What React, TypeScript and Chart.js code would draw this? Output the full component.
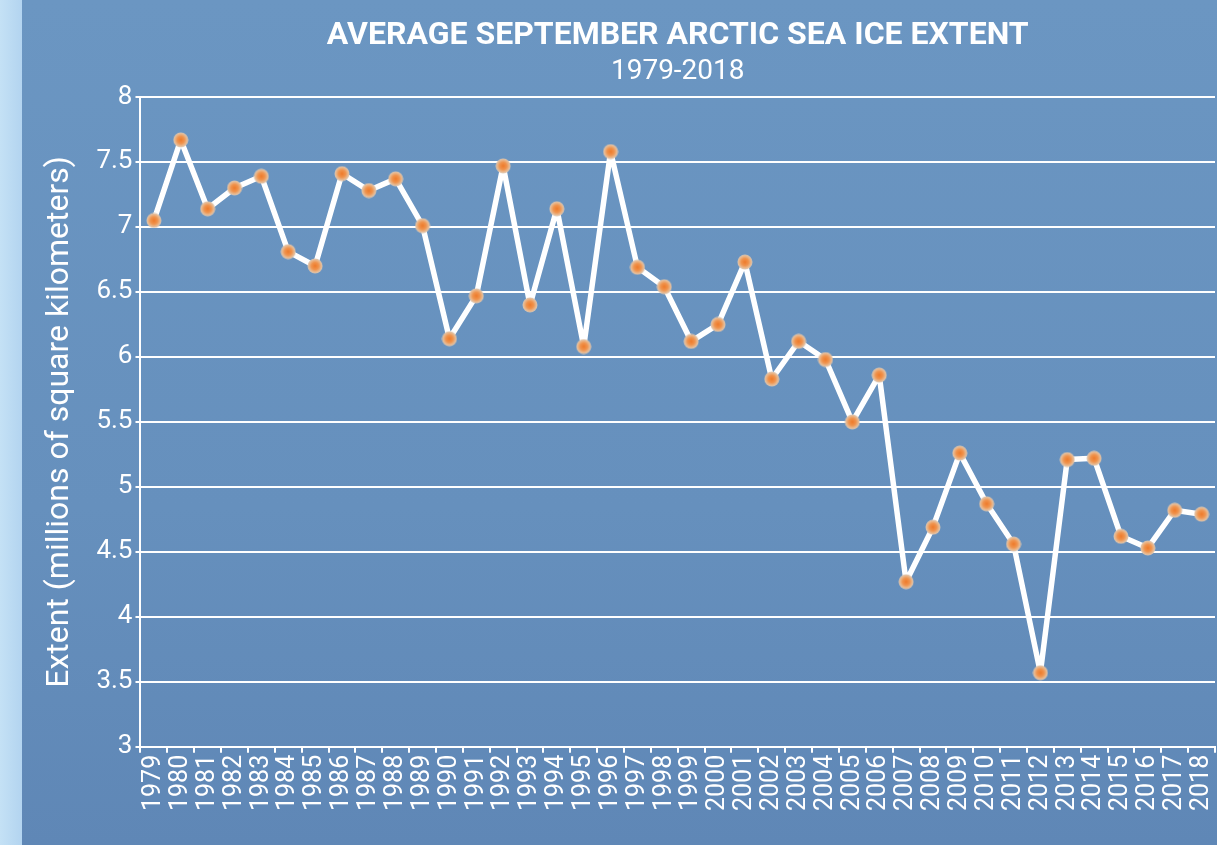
import React, { useEffect, useRef } from "react";
import { Chart, registerables } from "chart.js";

Chart.register(...registerables);

const years: string[] = [
  "1979", "1980", "1981", "1982", "1983", "1984", "1985", "1986", "1987", "1988",
  "1989", "1990", "1991", "1992", "1993", "1994", "1995", "1996", "1997", "1998",
  "1999", "2000", "2001", "2002", "2003", "2004", "2005", "2006", "2007", "2008",
  "2009", "2010", "2011", "2012", "2013", "2014", "2015", "2016", "2017", "2018",
];

const extent: number[] = [
  7.05, 7.67, 7.14, 7.30, 7.39, 6.81, 6.70, 7.41, 7.28, 7.37,
  7.01, 6.14, 6.47, 7.47, 6.40, 7.14, 6.08, 7.58, 6.69, 6.54,
  6.12, 6.25, 6.73, 5.83, 6.12, 5.98, 5.50, 5.86, 4.27, 4.69,
  5.26, 4.87, 4.56, 3.57, 5.21, 5.22, 4.62, 4.53, 4.82, 4.79,
];

const titleText = "AVERAGE SEPTEMBER ARCTIC SEA ICE EXTENT";
const subtitleText = "1979-2018";
const yAxisTitle = "Extent (millions of square kilometers)";

function makePointImage(): HTMLCanvasElement {
  const c = document.createElement("canvas");
  const s = 16;
  c.width = s;
  c.height = s;
  const ctx = c.getContext("2d")!;
  const r = s / 2;
  const g = ctx.createRadialGradient(r, r, 0, r, r, r);
  g.addColorStop(0, "#ee7a2a");
  g.addColorStop(0.45, "#f0944e");
  g.addColorStop(0.75, "#e8b88e");
  g.addColorStop(1, "rgba(215,205,195,0.9)");
  ctx.fillStyle = g;
  ctx.beginPath();
  ctx.arc(r, r, r - 0.5, 0, Math.PI * 2);
  ctx.fill();
  return c;
}

export default function App() {
  const ref = useRef<HTMLCanvasElement | null>(null);

  useEffect(() => {
    document.body.style.margin = "0";
    const canvas = ref.current;
    if (!canvas) return;
    const pointImg = makePointImage();
    const chart = new Chart(canvas, {
      type: "line",
      data: {
        labels: years,
        datasets: [
          {
            label: "Extent",
            data: extent,
            borderColor: "#ffffff",
            borderWidth: 5.5,
            borderJoinStyle: "round",
            pointStyle: pointImg as any,
            pointRadius: 8,
            tension: 0,
          },
        ],
      },
      options: {
        animation: false,
        responsive: false,
        maintainAspectRatio: false,
        layout: { autoPadding: false, padding: { left: 41, right: 2, top: 17, bottom: 32 } },
        plugins: {
          legend: { display: false },
          tooltip: { enabled: false },
          title: {
            display: true,
            fullSize: false,
            text: titleText,
            color: "#ffffff",
            font: { family: "Roboto", size: 32, weight: "bold" },
            padding: { top: 0, bottom: 0 },
          },
          subtitle: {
            display: true,
            fullSize: false,
            text: subtitleText,
            color: "#ffffff",
            font: { family: "Roboto", size: 28, weight: "normal" },
            padding: { top: 0, bottom: 8 },
          },
        },
        scales: {
          x: {
            type: "category",
            offset: true,
            afterFit: (scale: any) => {
              scale.paddingRight = 0;
            },
            border: { display: true, color: "#ffffff", width: 2 },
            grid: {
              offset: true,
              drawOnChartArea: false,
              drawTicks: true,
              tickLength: 6,
              color: "#ffffff",
              lineWidth: 2,
            },
            ticks: {
              color: "#ffffff",
              font: { family: "Roboto", size: 25 },
              maxRotation: 90,
              minRotation: 90,
              autoSkip: false,
              padding: 2,
            },
          },
          y: {
            min: 3,
            max: 8,
            border: { display: true, color: "#ffffff", width: 2 },
            grid: {
              color: "#ffffff",
              lineWidth: 2,
              drawTicks: true,
              tickLength: 5,
            },
            ticks: {
              stepSize: 0.5,
              color: "#ffffff",
              font: { family: "Roboto", size: 26 },
              padding: 3,
              callback: (v: any) => String(Number(v)),
            },
            title: {
              display: true,
              text: yAxisTitle,
              color: "#ffffff",
              font: { family: "Roboto", size: 32 },
              padding: { top: 0, bottom: 14 },
            },
          },
        },
      },
    });
    return () => chart.destroy();
  }, []);

  return (
    <div
      style={{
        width: 1217,
        height: 845,
        position: "relative",
        background:
          "linear-gradient(to right, #c4e1f5 0px, #b3d4f0 22px, rgba(0,0,0,0) 22px), linear-gradient(to bottom, #6b96c2 0%, #6690bd 60%, #5f87b6 100%)",
      }}
    >
      <canvas ref={ref} width={1217} height={845} style={{ display: "block" }} />
    </div>
  );
}
